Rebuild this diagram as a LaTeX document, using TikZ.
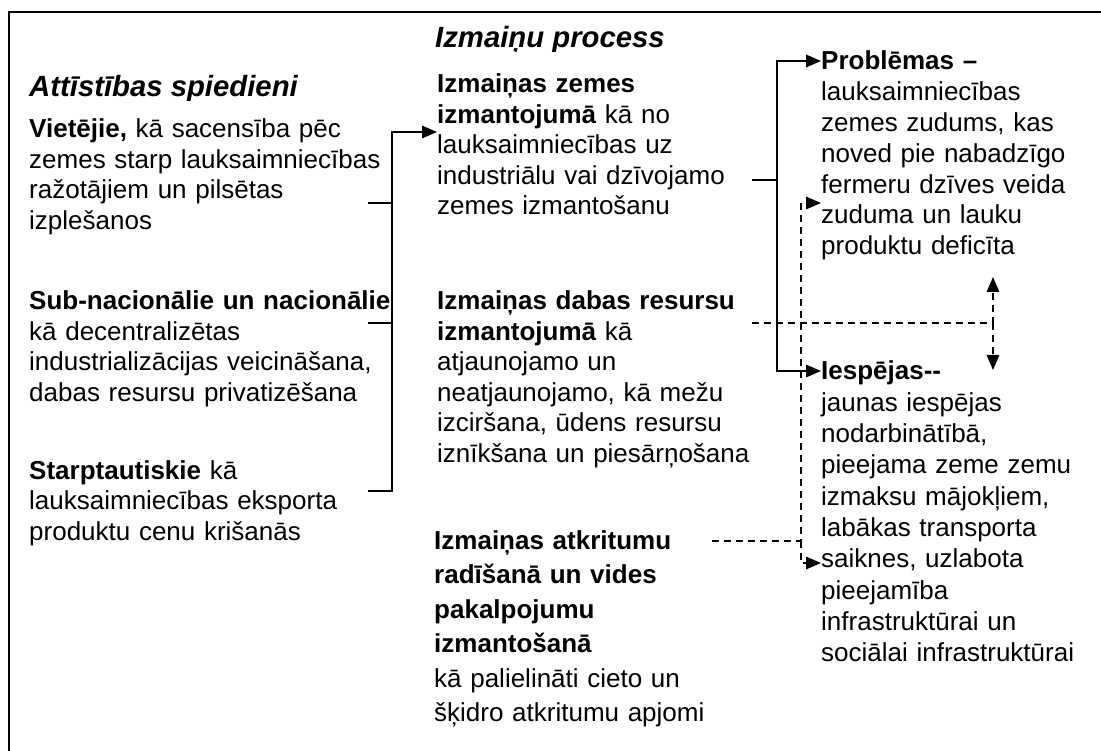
\documentclass[tikz,border=0pt]{standalone}
\usepackage{fontspec}
\setmainfont{Liberation Sans}
\usetikzlibrary{arrows.meta}
\begin{document}
\begin{tikzpicture}[x=1pt,y=-1pt,
  txt/.style={anchor=base west, inner sep=0pt, align=left, font=\fontsize{26}{30.5}\selectfont},
  head/.style={anchor=base west, inner sep=0pt, font=\fontsize{29.3}{34}\selectfont\bfseries\itshape},
  conn/.style={line width=1.8pt},
  dconn/.style={line width=1.5pt, dash pattern=on 7pt off 5pt},
  tip/.style={-{Triangle[length=15pt,width=12.5pt]}},
  frame/.style={line width=1.8pt}
]
\useasboundingbox (0,0) rectangle (1101,751);
\draw[frame] (9,751) -- (9,12) -- (1101,12);

% headings (bottoms clipped as in the original)
\begin{scope}
  \clip (420,15) rectangle (720,52);
  \node[head] (hP) at (435,48) {Izmaiņu process};
\end{scope}
\begin{scope}
  \clip (20,60) rectangle (320,101);
  \node[head] (hA) at (29,97) {Attīstības spiedieni};
\end{scope}

% left column
\node[txt, text width=362pt] (L1) at (29,138) {\textbf{Vietējie,} kā sacensība pēc\\zemes starp lauksaimniecības\\ražotājiem un pilsētas\\izplešanos};
\node[txt, text width=362pt] (L2) at (29,310) {\textbf{Sub-nacionālie un nacionālie}\\kā decentralizētas\\industrializācijas veicināšana,\\dabas resursu privatizēšana};
\node[txt, text width=362pt] (L3) at (29,479) {\textbf{Starptautiskie} kā\\lauksaimniecības eksporta\\produktu cenu krišanās};

% middle column
\node[txt, text width=330pt] (M1) at (437,93) {\textbf{Izmaiņas zemes}\\\textbf{izmantojumā} kā no\\lauksaimniecības uz\\industriālu vai dzīvojamo\\zemes izmantošanu};
\node[txt, text width=330pt] (M2) at (437,310) {\textbf{Izmaiņas dabas resursu}\\\textbf{izmantojumā} kā\\atjaunojamo un\\neatjaunojamo, kā mežu\\izciršana, ūdens resursu\\iznīkšana un piesārņošana};
\node[txt, text width=330pt, font=\fontsize{26}{34.5}\selectfont] (M3) at (434,549) {\textbf{Izmaiņas atkritumu}\\\textbf{radīšanā un vides}\\\textbf{pakalpojumu}\\\textbf{izmantošanā}\\kā palielināti cieto un\\šķidro atkritumu apjomi};

% right column
\node[txt, text width=262pt, font=\fontsize{26}{30.8}\selectfont] (R1) at (821,70) {\textbf{Problēmas –}\\lauksaimniecības\\zemes zudums, kas\\noved pie nabadzīgo\\fermeru dzīves veida\\zuduma un lauku\\produktu deficīta};
\node[txt, text width=262pt, font=\fontsize{26}{31.3}\selectfont] (R2) at (821,380) {\textbf{Iespējas-{}-}\\jaunas iespējas\\nodarbinātībā,\\pieejama zeme zemu\\izmaksu mājokļiem,\\labākas transporta\\saiknes, uzlabota\\pieejamība\\infrastruktūrai un\\sociālai infrastruktūrai};

% junction coordinates
\coordinate (sL1) at (368,203);
\coordinate (sL2) at (368,323);
\coordinate (sL3) at (368,491);
\coordinate (bLt) at (392,132);
\coordinate (sM1) at (752,180);
\coordinate (bRt) at (777,61);
\coordinate (bRb) at (777,371);
\coordinate (dM2) at (752,323);
\coordinate (dM2j) at (993,323);
\coordinate (upT) at (993,277);
\coordinate (dnT) at (993,370);
\coordinate (dM3) at (712,541);
\coordinate (dM3j) at (801,541);
\coordinate (dUp) at (801,203);
\coordinate (dDn) at (801,563);

% left bracket -> M1
\draw[conn] (sL1) -- (sL1 -| bLt);
\draw[conn] (sL2) -- (sL2 -| bLt);
\draw[conn,tip] (sL3) -| (bLt) -- (bLt -| M1.west);

% right bracket M1 -> R1, R2
\draw[conn] (sM1) -- (sM1 -| bRt);
\draw[conn,tip] (bRb) -- (bRt) -- (bRt -| R1.west);
\draw[conn,tip] (bRt) -- (bRb) -- (bRb -| R2.west);

% dashed M2 -> R1/R2
\draw[dconn,tip] (dM2) -- (dM2j) -- (upT);
\draw[dconn,tip] (dM2j) -- (dnT);

% dashed M3 -> R1/R2
\draw[dconn,tip] (dM3) -- (dM3j) -- (dUp) -- (dUp -| R1.west);
\draw[dconn,tip] (dM3j) -- (dDn) -- (dDn -| R2.west);
\end{tikzpicture}
\end{document}
